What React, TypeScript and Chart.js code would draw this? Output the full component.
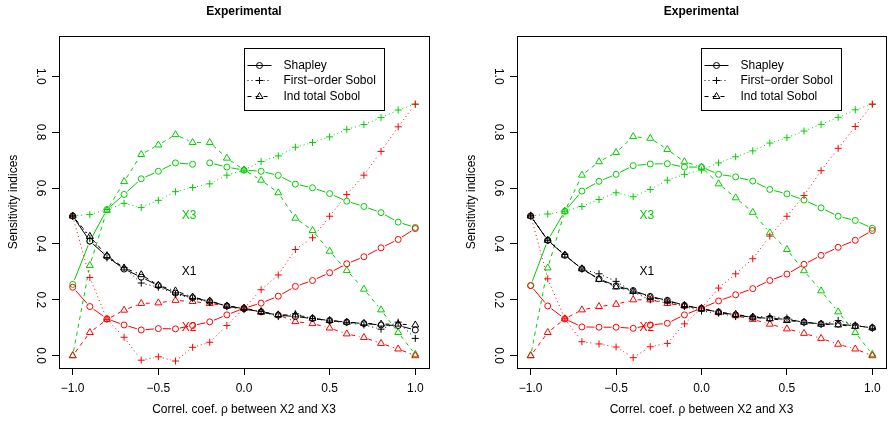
import React, { useEffect, useRef } from "react";
import { Chart, registerables } from "chart.js";

Chart.register(...registerables);

// ---------- data ----------
const rho = [-1.0, -0.9, -0.8, -0.7, -0.6, -0.5, -0.4, -0.3, -0.2, -0.1, 0.0, 0.1, 0.2, 0.3, 0.4, 0.5, 0.6, 0.7, 0.8, 0.9, 1.0];
const xTicks = [-1.0, -0.5, 0.0, 0.5, 1.0];
const yTicks = [0.0, 0.2, 0.4, 0.6, 0.8, 1.0];
const panelTitle = "Experimental";
const xTitle = "Correl. coef. ρ between X2 and X3";
const yTitle = "Sensitivity indices";
const indexNames = ["Shapley", "First\u2212order Sobol", "Ind total Sobol"];
const varNames = ["X1", "X2", "X3"];
const varLabelX = [-0.32, -0.32, -0.32];
const varLabelY = [0.3, 0.1, 0.5];

// left panel
const L_X1_shap = [0.50, 0.41, 0.355, 0.31, 0.281, 0.251, 0.224, 0.208, 0.194, 0.178, 0.168, 0.157, 0.145, 0.14, 0.133, 0.126, 0.12, 0.115, 0.11, 0.108, 0.092];
const L_X1_first = [0.50, 0.42, 0.35, 0.315, 0.26, 0.245, 0.22, 0.205, 0.19, 0.175, 0.165, 0.158, 0.14, 0.15, 0.133, 0.124, 0.118, 0.11, 0.095, 0.12, 0.062];
const L_X1_ind = [0.50, 0.427, 0.358, 0.314, 0.29, 0.252, 0.232, 0.21, 0.196, 0.178, 0.17, 0.158, 0.146, 0.146, 0.134, 0.126, 0.12, 0.116, 0.113, 0.113, 0.11];
const L_X2_shap = [0.245, 0.176, 0.132, 0.11, 0.092, 0.097, 0.096, 0.108, 0.121, 0.146, 0.17, 0.188, 0.213, 0.248, 0.269, 0.297, 0.329, 0.354, 0.386, 0.416, 0.455];
const L_X2_first = [0.499, 0.28, 0.13, 0.066, -0.016, -0.004, -0.019, 0.03, 0.048, 0.108, 0.17, 0.236, 0.289, 0.38, 0.422, 0.499, 0.577, 0.646, 0.731, 0.819, 0.9];
const L_X2_ind = [0.0, 0.083, 0.13, 0.163, 0.187, 0.189, 0.198, 0.194, 0.187, 0.178, 0.17, 0.155, 0.146, 0.122, 0.115, 0.099, 0.078, 0.065, 0.044, 0.024, 0.0];
const L_X3_shap = [0.255, 0.41, 0.523, 0.577, 0.633, 0.66, 0.69, 0.685, 0.69, 0.675, 0.664, 0.66, 0.645, 0.614, 0.601, 0.58, 0.553, 0.534, 0.512, 0.478, 0.459];
const L_X3_first = [0.50, 0.505, 0.523, 0.545, 0.53, 0.556, 0.587, 0.602, 0.615, 0.646, 0.664, 0.695, 0.715, 0.746, 0.763, 0.783, 0.81, 0.827, 0.852, 0.879, 0.9];
const L_X3_ind = [0.0, 0.323, 0.52, 0.623, 0.72, 0.754, 0.791, 0.763, 0.763, 0.707, 0.665, 0.628, 0.583, 0.492, 0.448, 0.374, 0.305, 0.238, 0.164, 0.083, 0.005];

// right panel
const R_X1_shap = [0.50, 0.413, 0.359, 0.311, 0.275, 0.25, 0.233, 0.212, 0.198, 0.18, 0.168, 0.156, 0.146, 0.137, 0.134, 0.13, 0.12, 0.114, 0.113, 0.107, 0.10];
const R_X1_first = [0.50, 0.413, 0.362, 0.31, 0.293, 0.266, 0.228, 0.2, 0.192, 0.176, 0.16, 0.152, 0.14, 0.14, 0.14, 0.135, 0.118, 0.112, 0.126, 0.11, 0.098];
const R_X1_ind = [0.50, 0.413, 0.36, 0.311, 0.273, 0.246, 0.23, 0.21, 0.196, 0.18, 0.168, 0.156, 0.148, 0.138, 0.132, 0.126, 0.12, 0.113, 0.11, 0.105, 0.10];
const R_X2_shap = [0.251, 0.178, 0.132, 0.103, 0.102, 0.102, 0.098, 0.11, 0.116, 0.146, 0.17, 0.196, 0.218, 0.24, 0.269, 0.292, 0.327, 0.359, 0.388, 0.413, 0.448];
const R_X2_first = [0.503, 0.275, 0.132, 0.05, 0.042, 0.031, -0.007, 0.032, 0.044, 0.114, 0.17, 0.242, 0.293, 0.347, 0.428, 0.499, 0.573, 0.662, 0.742, 0.82, 0.9];
const R_X2_ind = [0.0, 0.083, 0.132, 0.164, 0.176, 0.184, 0.2, 0.2, 0.187, 0.178, 0.17, 0.154, 0.143, 0.13, 0.113, 0.096, 0.08, 0.062, 0.041, 0.024, 0.0];
const R_X3_shap = [0.251, 0.413, 0.517, 0.589, 0.624, 0.649, 0.68, 0.686, 0.687, 0.675, 0.675, 0.649, 0.64, 0.625, 0.595, 0.579, 0.557, 0.529, 0.499, 0.484, 0.456];
const R_X3_first = [0.50, 0.507, 0.517, 0.534, 0.559, 0.583, 0.569, 0.595, 0.628, 0.649, 0.664, 0.69, 0.712, 0.733, 0.761, 0.78, 0.804, 0.828, 0.853, 0.88, 0.9];
const R_X3_ind = [0.0, 0.314, 0.517, 0.646, 0.694, 0.727, 0.784, 0.778, 0.738, 0.694, 0.675, 0.615, 0.565, 0.513, 0.44, 0.38, 0.304, 0.232, 0.157, 0.083, 0.005];

const leftSeries = [
  [L_X1_shap, L_X1_first, L_X1_ind],
  [L_X2_shap, L_X2_first, L_X2_ind],
  [L_X3_shap, L_X3_first, L_X3_ind],
];
const rightSeries = [
  [R_X1_shap, R_X1_first, R_X1_ind],
  [R_X2_shap, R_X2_first, R_X2_ind],
  [R_X3_shap, R_X3_first, R_X3_ind],
];

// ---------- styles ----------
const FONT = "'Liberation Sans', Arial, Helvetica, sans-serif";
const varColors = ["#000000", "#FF0000", "#00CD00"];
const idxStyle = [
  { pointStyle: "circle", radius: 3, dash: [] as number[] },
  { pointStyle: "cross", radius: 3.5, dash: [1, 3] },
  { pointStyle: "triangle", radius: 4, dash: [4, 4] },
];
const GAP = 4.5;

const fmt = (v: number) => v.toFixed(1).replace("-", "\u2212");

// dash array emulating a line drawn between points with a gap around each point
function gapDash(len: number, gap: number, pattern: number[]) {
  let rem = len - 2 * gap;
  if (rem <= 0.5) return [0, len + 1000];
  const pat = pattern.length ? pattern : [1e6, 0];
  const out: number[] = [0, gap];
  let i = 0;
  while (rem > 0 && i < 400) {
    const seg = Math.min(pat[i % pat.length], rem);
    out.push(seg);
    rem -= seg;
    i++;
  }
  if (out.length % 2 === 1) out.push(gap + 1000);
  else out.push(0, gap + 1000);
  return out;
}

const boxPlugin = {
  id: "rbox",
  afterDraw(chart: any) {
    const { ctx, chartArea: a } = chart;
    ctx.save();
    ctx.strokeStyle = "#000";
    ctx.lineWidth = 1;
    ctx.setLineDash([]);
    const l = Math.round(a.left) + 0.5, t = Math.round(a.top) + 0.5;
    const r = Math.round(a.right) + 0.5, b = Math.round(a.bottom) + 0.5;
    ctx.strokeRect(l, t, r - l, b - t);
    ctx.restore();
  },
};

function drawMarker(ctx: CanvasRenderingContext2D, style: string, x: number, y: number, r: number) {
  ctx.beginPath();
  if (style === "circle") {
    ctx.arc(x, y, r, 0, Math.PI * 2);
  } else if (style === "cross") {
    ctx.moveTo(x - r, y); ctx.lineTo(x + r, y);
    ctx.moveTo(x, y - r); ctx.lineTo(x, y + r);
  } else {
    const step = (Math.PI * 2) / 3;
    ctx.moveTo(x, y - r);
    ctx.lineTo(x + Math.sin(step) * r, y - Math.cos(step) * r);
    ctx.lineTo(x + Math.sin(2 * step) * r, y - Math.cos(2 * step) * r);
    ctx.closePath();
  }
  ctx.stroke();
}

const legendPlugin = {
  id: "rlegend",
  afterDraw(chart: any) {
    const { ctx, chartArea: a } = chart;
    const w = 140, h = 62;
    const left = Math.round(a.right - 45 - w) + 0.5;
    const top = Math.round(a.top + 12) + 0.5;
    ctx.save();
    ctx.fillStyle = "#fff";
    ctx.fillRect(left, top, w, h);
    ctx.strokeStyle = "#000";
    ctx.lineWidth = 1;
    ctx.setLineDash([]);
    ctx.strokeRect(left, top, w, h);
    const rows = [16, 31.7, 47.4];
    indexNames.forEach((name, i) => {
      const y = Math.round(top + rows[i]) + 0.5;
      const s = idxStyle[i];
      ctx.setLineDash(s.dash);
      ctx.beginPath();
      ctx.moveTo(left + 3, y);
      ctx.lineTo(left + 27, y);
      ctx.stroke();
      ctx.setLineDash([]);
      drawMarker(ctx, s.pointStyle, left + 15, y, s.radius);
      ctx.fillStyle = "#000";
      ctx.font = `12px ${FONT}`;
      ctx.textAlign = "left";
      ctx.textBaseline = "middle";
      ctx.fillText(name, left + 39, y);
    });
    ctx.restore();
  },
};

const varLabelPlugin = {
  id: "varlabels",
  afterDatasetsDraw(chart: any) {
    const { ctx, scales } = chart;
    ctx.save();
    ctx.font = `12px ${FONT}`;
    ctx.textAlign = "center";
    ctx.textBaseline = "middle";
    varNames.forEach((n, i) => {
      ctx.fillStyle = varColors[i];
      ctx.fillText(n, scales.x.getPixelForValue(varLabelX[i]), scales.y.getPixelForValue(varLabelY[i]));
    });
    ctx.restore();
  },
};

type PanelProps = {
  series: number[][][];
  width: number;
  left: number;
  yAxisWidth: number;
  padRight: number;
  yTitlePad: number;
};

function Panel({ series, width, left, yAxisWidth, padRight, yTitlePad }: PanelProps) {
  const ref = useRef<HTMLCanvasElement | null>(null);
  useEffect(() => {
    if (!ref.current) return;
    const datasets: any[] = [];
    series.forEach((v, vi) => {
      v.forEach((vals, ii) => {
        const s = idxStyle[ii];
        datasets.push({
          label: `${varNames[vi]} ${indexNames[ii]}`,
          data: rho.map((x, k) => ({ x, y: vals[k] })),
          borderColor: varColors[vi],
          borderWidth: 1,
          borderDash: s.dash,
          segment: {
            borderDash: (c: any) => {
              const dx = c.p1.x - c.p0.x, dy = c.p1.y - c.p0.y;
              return gapDash(Math.sqrt(dx * dx + dy * dy), GAP, s.dash);
            },
          },
          pointStyle: s.pointStyle,
          pointRadius: s.radius,
          pointBorderColor: varColors[vi],
          pointBackgroundColor: "rgba(0,0,0,0)",
          pointBorderWidth: 1,
          fill: false,
          tension: 0,
          showLine: true,
        });
      });
    });
    const font = { family: FONT, size: 12 };
    const chart = new Chart(ref.current, {
      type: "line",
      data: { datasets },
      plugins: [boxPlugin, varLabelPlugin, legendPlugin],
      options: {
        animation: false,
        responsive: false,
        maintainAspectRatio: false,
        events: [],
        layout: { padding: { left: 0, right: padRight, top: 0, bottom: 0 } },
        plugins: {
          legend: { display: false },
          tooltip: { enabled: false },
          title: {
            display: true,
            text: panelTitle,
            fullSize: false,
            color: "#000",
            font: { family: FONT, size: 12, weight: "bold" },
            padding: { top: 4.5, bottom: 17.1 },
          },
        },
        scales: {
          x: {
            type: "linear",
            min: -1.08,
            max: 1.08,
            afterBuildTicks: (sc: any) => { sc.ticks = xTicks.map((v) => ({ value: v })); },
            afterFit: (sc: any) => { sc.height = 55; },
            ticks: { callback: (v: any) => fmt(Number(v)), font, color: "#000", padding: 6, autoSkip: false, maxRotation: 0, minRotation: 0 },
            grid: { display: true, drawOnChartArea: false, drawTicks: true, tickLength: 7, color: "#000", lineWidth: 1 },
            border: { display: true, color: "#000", width: 1 },
            title: { display: true, text: xTitle, font, color: "#000", padding: { top: 0, bottom: 5.8 } },
          },
          y: {
            type: "linear",
            min: -0.044,
            max: 1.144,
            afterBuildTicks: (sc: any) => { sc.ticks = yTicks.map((v) => ({ value: v })); },
            afterFit: (sc: any) => { sc.width = yAxisWidth; },
            ticks: { callback: (v: any) => fmt(Number(v)), font, color: "#000", padding: 3.4, autoSkip: false, minRotation: -90, maxRotation: -90, crossAlign: "center" },
            grid: { display: true, drawOnChartArea: false, drawTicks: true, tickLength: 7, color: "#000", lineWidth: 1 },
            border: { display: true, color: "#000", width: 1 },
            title: { display: true, text: yTitle, font, color: "#000", padding: { top: yTitlePad, bottom: 0 } },
          },
        },
      } as any,
    });
    return () => chart.destroy();
  }, [series, width, yAxisWidth, padRight, yTitlePad]);
  return (
    <canvas
      ref={ref}
      width={width}
      height={423}
      style={{ position: "absolute", left, top: 0, width, height: 423 }}
    />
  );
}

export default function App() {
  return (
    <div style={{ position: "absolute", left: 0, top: 0, width: 891, height: 423, background: "#fff", overflow: "hidden" }}>
      <Panel series={leftSeries} width={445} left={0} yAxisWidth={59} padRight={16} yTitlePad={6.8} />
      <Panel series={rightSeries} width={446} left={445} yAxisWidth={72} padRight={4} yTitlePad={19.5} />
    </div>
  );
}
